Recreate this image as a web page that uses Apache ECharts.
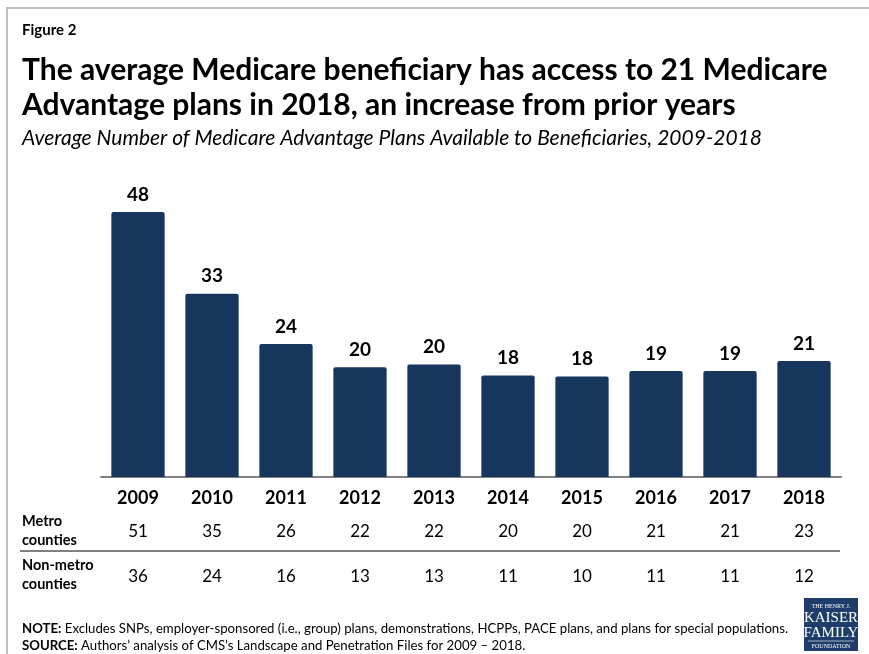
<!DOCTYPE html>
<html>
<head>
<meta charset="utf-8">
<script src="https://cdn.jsdelivr.net/npm/echarts@6/dist/echarts.min.js"></script>
<style>
  html, body { margin: 0; padding: 0; background: #fff; }
  #chart { width: 869px; height: 654px; }
</style>
</head>
<body>
<div id="chart"></div>
<script>
var years = ['2009', '2010', '2011', '2012', '2013', '2014', '2015', '2016', '2017', '2018']
var avgPlans = [48, 33.2, 24.1, 19.9, 20.4, 18.4, 18.2, 19.2, 19.2, 21.0]
var metro = [51, 35, 26, 22, 22, 20, 20, 21, 21, 23]
var nonMetro = [36, 24, 16, 13, 13, 11, 10, 11, 11, 12]

var font = 'Lato, "Open Sans", sans-serif'
var barColor = '#17365d'

var chart = echarts.init(document.getElementById('chart'))

function tableAxis (values, offset) {
  return {
    type: 'category',
    data: values,
    position: 'bottom',
    offset: offset,
    axisLine: { show: false },
    axisTick: { show: false },
    axisLabel: { margin: 0, color: '#000', fontFamily: font, fontSize: 17 }
  }
}

var option = {
  backgroundColor: '#fff',
  animation: false,
  grid: { left: 101, right: 28, top: 201, bottom: 177 },
  xAxis: [
    {
      type: 'category',
      data: years,
      axisLine: { lineStyle: { color: '#7f7f7f', width: 2 } },
      axisTick: { show: false },
      axisLabel: { margin: 12, color: '#000', fontFamily: font, fontSize: 18, fontWeight: 'bold' }
    },
    tableAxis(metro, 46),
    tableAxis(nonMetro, 91)
  ],
  yAxis: {
    type: 'value',
    min: 0,
    max: 50,
    show: false,
    splitLine: { show: false }
  },
  series: [{
    type: 'bar',
    data: avgPlans,
    barCategoryGap: '28%',
    itemStyle: { color: barColor, borderRadius: [2, 2, 0, 0] },
    label: {
      show: true,
      position: 'top',
      distance: 8,
      color: '#000',
      fontFamily: font,
      fontSize: 19,
      fontWeight: 'bold',
      formatter: function (p) { return Math.round(p.value) }
    }
  }],
  graphic: [
    // frame
    { type: 'line', shape: { x1: 7, y1: 8, x2: 869, y2: 8 }, style: { stroke: '#bfbfbf', lineWidth: 2 } },
    { type: 'line', shape: { x1: 7, y1: 7, x2: 7, y2: 654 }, style: { stroke: '#bfbfbf', lineWidth: 2 } },
    { type: 'text', left: 22, top: 23, style: { text: 'Figure 2', font: 'bold 15px ' + font, fill: '#000' } },
    {
      type: 'text', left: 22, top: 53,
      style: {
        text: 'The average Medicare beneficiary has access to 21 Medicare\nAdvantage plans in 2018, an increase from prior years',
        font: 'bold 30px ' + font, lineHeight: 35, fill: '#000'
      }
    },
    { type: 'text', left: 22, top: 128, style: { text: 'Average Number of Medicare Advantage Plans Available to Beneficiaries, 2009-2018', font: 'italic 21px ' + font, fill: '#000' } },
    // table row labels and separator
    { type: 'text', left: 22, top: 512, style: { text: 'Metro\ncounties', font: 'bold 14.5px ' + font, lineHeight: 19, fill: '#000' } },
    { type: 'line', shape: { x1: 20, y1: 551, x2: 840, y2: 551 }, style: { stroke: '#000', lineWidth: 1 } },
    { type: 'text', left: 22, top: 556, style: { text: 'Non-metro\ncounties', font: 'bold 14.5px ' + font, lineHeight: 19, fill: '#000' } },
    // notes
    {
      type: 'text', left: 22, top: 620,
      style: {
        text: '{b|NOTE:} Excludes SNPs, employer-sponsored (i.e., group) plans, demonstrations, HCPPs, PACE plans, and plans for special populations.\n{b|SOURCE:} Authors\u2019 analysis of CMS\u2019s Landscape and Penetration Files for 2009 \u2013 2018.',
        font: '13.2px ' + font, lineHeight: 17, fill: '#000',
        rich: { b: { font: 'bold 13.2px ' + font, fill: '#000' } }
      }
    },
    // logo
    { type: 'rect', shape: { x: 804, y: 598, width: 54, height: 53 }, style: { fill: '#1f3d6b' } },
    { type: 'text', x: 831, y: 603, style: { text: 'THE HENRY J.', font: '6px "Liberation Serif", serif', fill: '#fff', align: 'center' } },
    { type: 'text', x: 831, y: 611, style: { text: 'KAISER', font: '15px "Liberation Serif", serif', fill: '#fff', align: 'center' } },
    { type: 'text', x: 831, y: 626, style: { text: 'FAMILY', font: '15px "Liberation Serif", serif', fill: '#fff', align: 'center' } },
    { type: 'line', shape: { x1: 808, y1: 641, x2: 854, y2: 641 }, style: { stroke: '#fff', lineWidth: 0.6 } },
    { type: 'text', x: 831, y: 643, style: { text: 'FOUNDATION', font: '6px "Liberation Serif", serif', fill: '#fff', align: 'center' } }
  ]
}

chart.setOption(option, true)
</script>
</body>
</html>
